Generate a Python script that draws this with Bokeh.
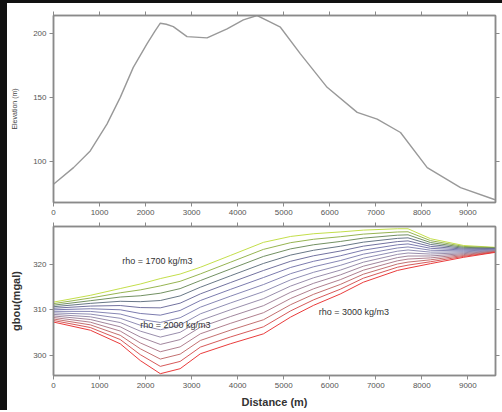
from bokeh.plotting import figure
from bokeh.layouts import column
from bokeh.models import LinearAxis, FixedTicker, Range1d
from bokeh.embed import file_html
from bokeh.resources import INLINE
from bokeh.core.properties import value

# ---------------- data ----------------
dist_elev = [0, 435, 798, 1161, 1450, 1733, 2030, 2200, 2320, 2450, 2602, 2900, 3335, 3770,
             4124, 4422, 4711, 4928, 5363, 5943, 6596, 7030, 7537, 8117, 8841, 9560, 9600]
elevation = [82.7, 95.6, 108.6, 129.4, 150.2, 173.5, 191.7, 201.5, 207.8, 207.0, 205.2, 197.4, 196.4, 203.4,
             210.4, 213.8, 208.6, 204.7, 184.0, 158.0, 138.5, 133.3, 122.9, 95.6, 80.0, 71.0, 70.5]

dist_grav = [0, 800, 1450, 1885, 2320, 2750, 3190, 3840, 4560, 5150, 5650, 6230,
             6730, 7470, 7700, 8190, 8910, 9600]
gbou_1700 = [311.7, 313.2, 314.7, 315.7, 316.9, 317.9, 319.4, 322.0, 324.9, 326.2, 326.8, 327.2,
             327.6, 327.9, 327.9, 325.7, 324.2, 323.8]
gbou_3000 = [307.3, 305.5, 302.5, 298.8, 295.9, 297.0, 300.3, 302.5, 304.7, 308.4, 311.0, 313.5,
             316.1, 318.7, 319.2, 320.2, 321.6, 322.7]
densities = [1700, 1800, 1900, 2000, 2100, 2200, 2300, 2400, 2500, 2600, 2700, 2800, 2900, 3000]

x_ticks = [0, 1000, 2000, 3000, 4000, 5000, 6000, 7000, 8000, 9000]
elev_ticks = [100, 150, 200]
grav_ticks = [300, 310, 320]

labels_text = ["rho = 1700 kg/m3", "rho = 2000 kg/m3", "rho = 3000 kg/m3"]
labels_x = [1493, 1885, 5761]
labels_y = [320.7, 306.6, 309.5]

# ---------------- style ----------------
curve_colors = ["#c0dc40", "#90b048", "#6a8a5a", "#607080", "#6a6a9a", "#7474aa", "#8080b0",
                "#8a88b0", "#9488a8", "#9c8098", "#ac7888", "#c06868", "#d45050", "#e83030"]
FRAME = "#8a8a8a"
TXT = "#555555"
FONT = "Liberation Sans"


def style_axis(ax, ticks, show_labels=True):
    ax.ticker = FixedTicker(ticks=ticks)
    ax.axis_line_color = FRAME
    ax.axis_line_width = 1.5
    ax.major_tick_line_color = FRAME
    ax.major_tick_out = 4
    ax.major_tick_in = 0
    ax.minor_tick_line_color = None
    ax.major_label_text_font_size = "8px"
    ax.major_label_text_color = TXT
    ax.major_label_text_font = FONT
    ax.major_label_standoff = 3
    if not show_labels:
        ax.major_label_overrides = {t: " " for t in ticks}
        ax.major_label_standoff = 0
        ax.major_label_text_font_size = "2px"


def make_fig(fh, yr, yt, mb_top, mb_bottom):
    p = figure(frame_width=442, frame_height=fh, x_range=Range1d(0, 9600), y_range=yr,
               output_backend="svg", toolbar_location=None, x_axis_location=None,
               y_axis_location=None, min_border_left=46, min_border_right=3,
               min_border_top=mb_top, min_border_bottom=mb_bottom)
    p.xgrid.visible = False
    p.ygrid.visible = False
    p.outline_line_color = FRAME
    p.outline_line_width = 1.5
    bottom = LinearAxis()
    left = LinearAxis()
    top = LinearAxis()
    right = LinearAxis()
    style_axis(bottom, x_ticks)
    style_axis(left, yt)
    style_axis(top, x_ticks, False)
    style_axis(right, yt, False)
    p.add_layout(bottom, "below")
    p.add_layout(left, "left")
    p.add_layout(top, "above")
    p.add_layout(right, "right")
    return p, bottom, left


# ---------------- top: elevation ----------------
p1, b1, l1 = make_fig(187, Range1d(68.5, 213.8), elev_ticks, 12, 15)
p1.line(dist_elev, elevation, line_color="#999999", line_width=1.4)
l1.axis_label = "Elevation (m)"
l1.axis_label_text_font_size = "7px"
l1.axis_label_text_font_style = "normal"
l1.axis_label_text_color = "#444444"
l1.axis_label_text_font = FONT
l1.axis_label_standoff = 12

# ---------------- bottom: Bouguer gravity ----------------
p2, b2, l2 = make_fig(149, Range1d(295.5, 328.4), grav_ticks, 4, 8)

# Bouguer anomaly is linear in the reduction density: g(rho) between the two read curves
rho_lo, rho_hi = densities[0], densities[-1]
for rho, col in zip(densities, curve_colors):
    w = (rho - rho_lo) / (rho_hi - rho_lo)
    g = [a + w * (b - a) for a, b in zip(gbou_1700, gbou_3000)]
    p2.line(dist_grav, g, line_color=col, line_width=1.0, line_alpha=0.95)

p2.text(x=labels_x, y=labels_y, text=labels_text, text_font=value(FONT),
        text_font_size="9px", text_color="#333333", text_baseline="middle", text_align="left")

b2.axis_label = "Distance (m)"
l2.axis_label = "gbou(mgal)"
for ax in (b2, l2):
    ax.axis_label_text_font_size = "11px"
    ax.axis_label_text_font_style = "bold"
    ax.axis_label_text_color = "#333333"
    ax.axis_label_text_font = FONT
b2.axis_label_standoff = 5
l2.axis_label_standoff = 8

layout = column(p1, p2, spacing=0,
                styles={"border-left": "7px solid #111111", "border-top": "3px solid #111111"})
open("out.html", "w").write(file_html(layout, INLINE))
